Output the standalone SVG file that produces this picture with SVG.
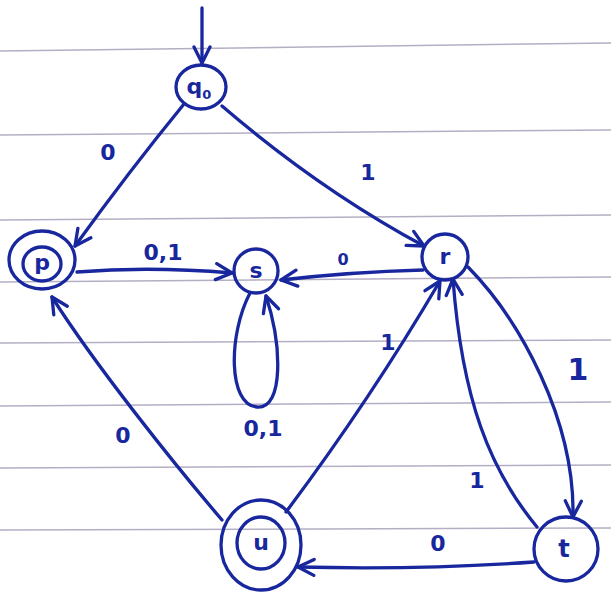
<svg xmlns="http://www.w3.org/2000/svg" width="611" height="592" viewBox="0 0 611 592">
<style>
.paper{stroke:#b4aec4;stroke-width:1.5;fill:none}
.st{fill:none;stroke:#18279e;stroke-width:3.3}
.ed{fill:none;stroke:#18279e;stroke-width:3.3;stroke-linecap:round;marker-end:url(#ah)}
.lbl{font-family:"DejaVu Sans",sans-serif;font-size:22px;font-weight:bold;fill:#18279e;text-anchor:middle}
.nl{font-family:"DejaVu Sans",sans-serif;font-size:22px;font-weight:bold;fill:#18279e;text-anchor:middle}
</style>
<defs>
<marker id="ah" viewBox="0 0 20 20" refX="18" refY="10" markerWidth="20" markerHeight="20" markerUnits="userSpaceOnUse" orient="auto">
<path d="M2,2 L18,10 L2,18" fill="none" stroke="#18279e" stroke-width="3.3" stroke-linecap="round" stroke-linejoin="round"/>
</marker>
</defs>
<rect width="611" height="592" fill="#ffffff"/>
<g id="paper">
<line class="paper" x1="0" y1="51" x2="611" y2="43"/>
<line class="paper" x1="0" y1="135" x2="611" y2="130"/>
<line class="paper" x1="0" y1="220" x2="611" y2="215"/>
<line class="paper" x1="0" y1="282" x2="611" y2="277"/>
<line class="paper" x1="0" y1="343" x2="611" y2="340"/>
<line class="paper" x1="0" y1="406" x2="611" y2="402"/>
<line class="paper" x1="0" y1="468" x2="611" y2="465"/>
<line class="paper" x1="0" y1="530" x2="611" y2="528"/>
</g>
<g id="connectors">
<path class="ed" d="M202,8 L202,63"/>
<path class="ed" d="M184,104 Q130,170 75,246"/>
<path class="ed" d="M222,106 Q320,190 424,246"/>
<path class="ed" d="M77,272 Q150,266 232,273"/>
<path class="ed" d="M423,270 Q350,272 281,280"/>
<path class="ed" d="M250,293 C228,335 228,405 257,407 C284,409 282,345 266,296"/>
<path class="ed" d="M222,520 C175,465 95,365 52,297"/>
<path class="ed" d="M286,512 Q370,400 440,281"/>
<path class="ed" d="M468,267 C520,320 575,420 573,517"/>
<path class="ed" d="M537,527 C490,470 462,400 453,279"/>
<path class="ed" d="M534,562 Q420,570 298,567"/>
</g>
<g id="labels">
<text class="lbl" x="108" y="160">0</text>
<text class="lbl" x="368" y="180">1</text>
<text class="lbl" x="163" y="260">0,1</text>
<text class="lbl" x="343" y="265" style="font-size:16px">0</text>
<text class="lbl" x="263" y="436">0,1</text>
<text class="lbl" x="123" y="443">0</text>
<text class="lbl" x="388" y="350">1</text>
<text class="lbl" x="578" y="380" style="font-size:30px">1</text>
<text class="lbl" x="477" y="488">1</text>
<text class="lbl" x="438" y="551">0</text>
</g>
<g id="q0">
<ellipse class="st" cx="201" cy="87" rx="25" ry="22"/>
<text class="nl" x="199" y="94">q<tspan font-size="13" dy="5">0</tspan></text>
</g>
<g id="p">
<ellipse class="st" cx="42" cy="260" rx="33" ry="29"/>
<ellipse class="st" cx="42" cy="264" rx="19" ry="17"/>
<text class="nl" x="42" y="270">p</text>
</g>
<g id="s">
<circle class="st" cx="256" cy="271" r="22"/>
<text class="nl" x="256" y="278">s</text>
</g>
<g id="r">
<circle class="st" cx="445" cy="257" r="23"/>
<text class="nl" x="445" y="264">r</text>
</g>
<g id="u">
<ellipse class="st" cx="261" cy="545" rx="40" ry="45"/>
<ellipse class="st" cx="261" cy="543" rx="24" ry="26"/>
<text class="nl" x="261" y="550">u</text>
</g>
<g id="t">
<ellipse class="st" cx="566" cy="549" rx="32" ry="32"/>
<text class="nl" x="564" y="557" style="font-size:24px">t</text>
</g>
</svg>
